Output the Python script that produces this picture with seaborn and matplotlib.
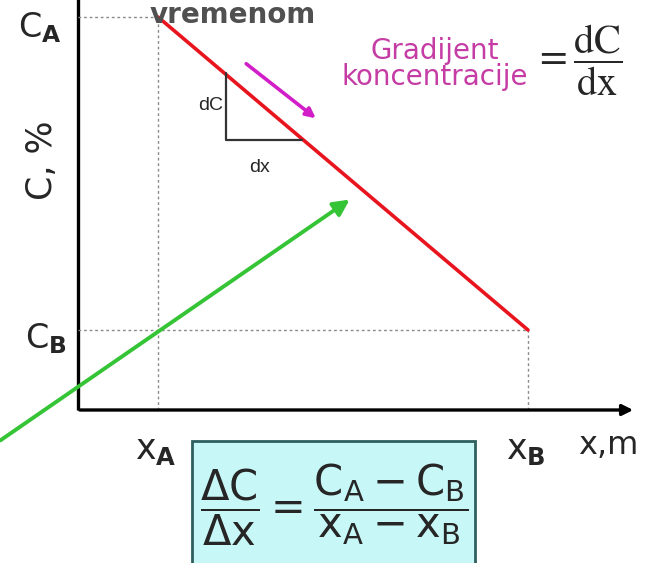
import matplotlib
matplotlib.use('Agg')
import matplotlib.pyplot as plt
import matplotlib.patches as mpatches
import seaborn as sns

# data: concentration drop between the two points
x_pos = [8.0, 45.0]      # x_A, x_B
c_vals = [39.3, 8.0]     # C_A, C_B
x_names = ['A', 'B']

sns.set_style('white')
plt.rcParams['font.family'] = ['DejaVu Sans']

fig = plt.figure(figsize=(6.5, 5.63), dpi=100)
ax = fig.add_axes([0, 0, 1, 1])
ax.set_xlim(-7.8, 57.2)
ax.set_ylim(-15.3, 41.0)
ax.axis('off')

# axes of the diagram
ax.plot([0, 0], [0, 41.5], color='black', lw=2.4, solid_capstyle='butt')
ax.annotate('', xy=(55.8, 0), xytext=(-0.1, 0),
            arrowprops=dict(arrowstyle='-|>', lw=2.4, color='black', mutation_scale=16))

# dotted guide lines
dot = dict(color='#8a8a8a', lw=1.0, ls=(0, (2, 2)))
for xv, cv in zip(x_pos, c_vals):
    ax.plot([0, xv], [cv, cv], **dot)
    ax.plot([xv, xv], [0, cv], **dot)

# red concentration line
sns.lineplot(x=x_pos, y=c_vals, color='#e8141e', lw=2.6, ax=ax, legend=False)

# small dC / dx triangle
ax.plot([14.8, 14.8, 22.4], [33.7, 27.0, 27.0], color='#333333', lw=1.6)
ax.text(14.5, 30.4, 'dC', ha='right', va='center', fontsize=14, family='Liberation Sans')
ax.text(18.2, 24.2, 'dx', ha='center', va='center', fontsize=14, family='Liberation Sans')

# magenta arrow
ax.annotate('', xy=(24.0, 29.0), xytext=(16.6, 34.8),
            arrowprops=dict(arrowstyle='-|>', lw=2.6, color='#d21ec8', mutation_scale=14))

# green arrow
ax.annotate('', xy=(27.4, 21.2), xytext=(-8.0, -3.2),
            arrowprops=dict(arrowstyle='-|>', lw=2.8, color='#35c435', mutation_scale=24))

# labels
ax.text(-3.8, c_vals[0] - 1.1, r'C$_\mathbf{A}$', ha='center', va='center', fontsize=24,
        math_fontfamily='dejavusans')
ax.text(-3.2, c_vals[1] - 0.9, r'C$_\mathbf{B}$', ha='center', va='center', fontsize=24,
        math_fontfamily='dejavusans')
ax.text(-3.6, 25.0, 'C, %', rotation=90, ha='center', va='center', fontsize=25)
ax.text(7.2, 40.9, 'vremenom', ha='left', va='top', fontsize=20, fontweight='bold',
        color='#505050')

ax.text(x_pos[0] - 0.2, -4.0, r'x$_\mathbf{' + x_names[0] + '}$', ha='center', va='center',
        fontsize=25, math_fontfamily='dejavusans')
ax.text(x_pos[1] - 0.2, -4.0, r'x$_\mathbf{' + x_names[1] + '}$', ha='center', va='center',
        fontsize=25, math_fontfamily='dejavusans')
ax.text(53.0, -3.6, 'x,m', ha='center', va='center', fontsize=23)

ax.text(35.7, 34.6, 'Gradijent\nkoncentracije', ha='center', va='center', fontsize=20,
        color='#c43ca4', linespacing=0.95)
ax.text(45.6, 35.0, r'$=\dfrac{\mathrm{dC}}{\mathrm{dx}}$', ha='left', va='center', fontsize=29,
        math_fontfamily='stix')

# formula box
box = mpatches.Rectangle((11.4, -15.6), 28.3, 12.5, facecolor='#c8f7f7',
                         edgecolor='#2f5f5f', lw=2)
ax.add_patch(box)
ax.text(25.6, -9.5,
        r'$\dfrac{\Delta\mathrm{C}}{\Delta\mathrm{x}}=\dfrac{\mathrm{C_A-C_B}}{\mathrm{x_A-x_B}}$',
        ha='center', va='center', fontsize=30, math_fontfamily='dejavusans')

fig.savefig('out.png', dpi=100)
